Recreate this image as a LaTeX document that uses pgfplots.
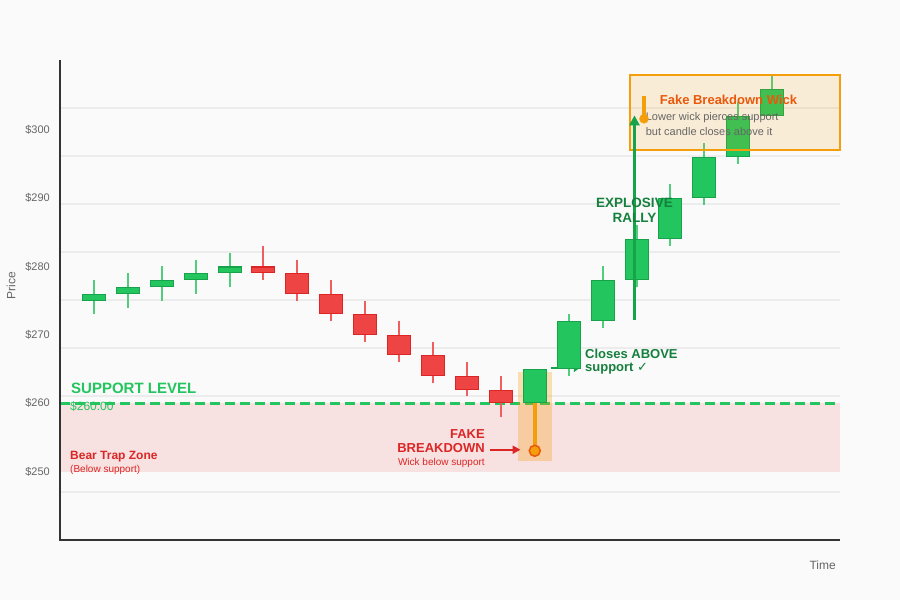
\documentclass[border=0pt]{standalone}
\usepackage{pgfplots}
\pgfplotsset{compat=1.18}
\usetikzlibrary{arrows.meta}
\usepackage{fontspec}
\setmainfont{Liberation Sans}
\newfontfamily\symfont{DejaVu Sans}

\definecolor{bg}{RGB}{250,250,250}
\definecolor{gridc}{RGB}{236,236,236}
\definecolor{axisc}{RGB}{51,51,51}
\definecolor{txtc}{RGB}{102,102,102}
\definecolor{up}{RGB}{34,197,94}
\definecolor{upD}{RGB}{22,163,74}
\definecolor{upL}{RGB}{80,205,125}
\definecolor{dn}{RGB}{239,68,68}
\definecolor{dnD}{RGB}{220,38,38}
\definecolor{dnL}{RGB}{240,95,95}
\definecolor{dkgreen}{RGB}{21,128,61}
\definecolor{zone}{RGB}{248,225,225}
\definecolor{amber}{RGB}{245,158,11}
\definecolor{orangeD}{RGB}{234,88,12}

\newcommand{\fs}[1]{\fontsize{#1}{#1}\selectfont}

\begin{document}
\begin{tikzpicture}
\useasboundingbox (-60pt,-60pt) rectangle (840pt,540pt);
\fill[bg] (-60pt,-60pt) rectangle (840pt,540pt);

\begin{axis}[
    at={(0,0)}, anchor=south west,
    scale only axis, width=780pt, height=480pt,
    xmin=-1, xmax=22, ymin=240, ymax=310.2,
    axis lines*=left,
    axis line style={draw=none},
    xtick=\empty,
    ytick={250,260,270,280,290,300},
    yticklabels={\$250,\$260,\$270,\$280,\$290,\$300},
    major tick length=0pt,
    yticklabel style={font=\fs{11}, text=txtc, inner sep=0pt, xshift=-10pt},
    extra y ticks={247.02,254.04,261.06,268.08,275.10,282.12,289.14,296.16,303.18},
    extra y tick labels={},
    extra y tick style={grid=major, major grid style={gridc, line width=1.5pt}},
    clip=false,
    unbounded coords=jump,
    wick/.style={line width=2pt},
]

% bear trap zone and support level
\fill[zone] (axis cs:-1,250) rectangle (axis cs:22,260);
\addplot[up, line width=3pt, dash pattern=on 10pt off 5pt] coordinates {(-1,260) (22,260)};

% highlight of the fake breakdown candle
\fill[amber, opacity=0.3] (axis cs:12.5,251.6) rectangle (axis cs:13.5,264.5);
\draw[upD, line width=2pt, -{Triangle[length=6pt,width=8pt]}]
  (axis cs:13.48,265.17) -- (axis cs:14.33,265.17);

% wicks (low, high)
\addplot[wick, upL] coordinates {
  (0,273)(0,278) (0,nan) (1,274)(1,279) (1,nan) (2,275)(2,280) (2,nan)
  (3,276)(3,281) (3,nan) (4,277)(4,282) (4,nan) (14,264)(14,273) (14,nan)
  (15,271)(15,280) (15,nan) (16,277)(16,286) (16,nan) (17,283)(17,292) (17,nan)
  (18,289)(18,298) (18,nan) (19,295)(19,304) (19,nan) (20,302)(20,308)};
\addplot[wick, dnL] coordinates {
  (5,278)(5,283) (5,nan) (6,275)(6,281) (6,nan) (7,272)(7,278) (7,nan)
  (8,269)(8,275) (8,nan) (9,266)(9,272) (9,nan) (10,263)(10,269) (10,nan)
  (11,261)(11,266) (11,nan) (12,258)(12,264)};

% bodies (open, close): outline, then fill
\addplot[line width=24pt, draw=upD] coordinates {
  (0,275)(0,276) (0,nan) (1,276)(1,277) (1,nan) (2,277)(2,278) (2,nan)
  (3,278)(3,279) (3,nan) (4,279)(4,280) (4,nan) (13,260)(13,265) (13,nan)
  (14,265)(14,272) (14,nan) (15,272)(15,278) (15,nan) (16,278)(16,284) (16,nan)
  (17,284)(17,290) (17,nan) (18,290)(18,296) (18,nan) (19,296)(19,302) (19,nan)
  (20,302)(20,306)};
\addplot[line width=22pt, draw=up] coordinates {
  (0,275.15)(0,275.85) (0,nan) (1,276.15)(1,276.85) (1,nan) (2,277.15)(2,277.85) (2,nan)
  (3,278.15)(3,278.85) (3,nan) (4,279.15)(4,279.85) (4,nan) (13,260.15)(13,264.85) (13,nan)
  (14,265.15)(14,271.85) (14,nan) (15,272.15)(15,277.85) (15,nan) (16,278.15)(16,283.85) (16,nan)
  (17,284.15)(17,289.85) (17,nan) (18,290.15)(18,295.85) (18,nan) (19,296.15)(19,301.85) (19,nan)
  (20,302.15)(20,305.85)};
\addplot[line width=24pt, draw=dnD] coordinates {
  (5,280)(5,279) (5,nan) (6,279)(6,276) (6,nan) (7,276)(7,273) (7,nan)
  (8,273)(8,270) (8,nan) (9,270)(9,267) (9,nan) (10,267)(10,264) (10,nan)
  (11,264)(11,262) (11,nan) (12,262)(12,260)};
\addplot[line width=22pt, draw=dn] coordinates {
  (5,279.85)(5,279.15) (5,nan) (6,278.85)(6,276.15) (6,nan) (7,275.85)(7,273.15) (7,nan)
  (8,272.85)(8,270.15) (8,nan) (9,269.85)(9,267.15) (9,nan) (10,266.85)(10,264.15) (10,nan)
  (11,263.85)(11,262.15) (11,nan) (12,261.85)(12,260.15)};

% the fake breakdown wick
\addplot[amber, line width=4pt] coordinates {(13,260) (13,253.1)};
\addplot[only marks, mark=*, mark size=5.5pt,
  mark options={fill=amber, draw=orangeD, line width=1.5pt}] coordinates {(13,253.05)};

% annotation box
\filldraw[fill=amber, fill opacity=0.15, draw=amber, line width=2pt]
  (axis cs:15.81,297.07) rectangle (axis cs:22,307.95);
\addplot[amber, line width=4pt] coordinates {(16.22,305.0) (16.22,301.7)};
\addplot[only marks, mark=*, mark size=4.5pt, mark options={fill=amber, draw=amber}]
  coordinates {(16.22,301.6)};

% rally arrow
\draw[upD, line width=3pt, -{Triangle[length=10pt,width=10pt]}]
  (axis cs:15.94,272.19) -- (axis cs:15.94,302.1);

% fake breakdown arrow
\draw[dnD, line width=2pt, -{Triangle[length=8pt,width=8pt]}]
  (axis cs:11.68,253.2) -- (axis cs:12.58,253.2);

% axis lines
\draw[axisc, line width=2pt] (rel axis cs:0,1) -- (rel axis cs:0,0) -- (rel axis cs:1,0);

% texts
\node[anchor=west, inner sep=0pt, text=up, font=\fs{15}\bfseries] at (axis cs:-0.675,262.24) {SUPPORT LEVEL};
\node[anchor=west, inner sep=0pt, text=up, font=\fs{12}] at (axis cs:-0.705,259.6) {\$260.00};
\node[anchor=west, inner sep=0pt, text=dnD, font=\fs{12}\bfseries] at (axis cs:-0.705,252.14) {Bear Trap Zone};
\node[anchor=west, inner sep=0pt, text=dnD, font=\fs{10}] at (axis cs:-0.705,250.24) {(Below support)};
\node[anchor=east, inner sep=0pt, text=dnD, font=\fs{13}\bfseries] at (axis cs:11.53,255.51) {FAKE};
\node[anchor=east, inner sep=0pt, text=dnD, font=\fs{13}\bfseries] at (axis cs:11.53,253.46) {BREAKDOWN};
\node[anchor=east, inner sep=0pt, text=dnD, font=\fs{10}] at (axis cs:11.53,251.26) {Wick below support};
\node[anchor=west, inner sep=0pt, text=dkgreen, font=\fs{13}\bfseries] at (axis cs:14.48,267.21) {Closes ABOVE};
\node[anchor=west, inner sep=0pt, text=dkgreen, font=\fs{13}\bfseries] at (axis cs:14.48,265.02) {support {\symfont ✓}};
\node[inner sep=0pt, text=dkgreen, font=\fs{13.5}\bfseries] at (axis cs:15.94,289.27) {EXPLOSIVE};
\node[inner sep=0pt, text=dkgreen, font=\fs{13.5}\bfseries] at (axis cs:15.94,287.07) {RALLY};
\node[inner sep=0pt, text=orangeD, font=\fs{13}\bfseries] at (axis cs:18.71,304.38) {Fake Breakdown Wick};
\node[anchor=west, inner sep=0pt, text=txtc, font=\fs{11}] at (axis cs:16.27,301.71) {Lower wick pierces support};
\node[anchor=west, inner sep=0pt, text=txtc, font=\fs{11}] at (axis cs:16.27,299.70) {but candle closes above it};
\end{axis}

\node[rotate=90, inner sep=0pt, text=txtc, font=\fs{12}] at (-49pt,254.3pt) {Price};
\node[anchor=east, inner sep=0pt, text=txtc, font=\fs{12}] at (776pt,-25.7pt) {Time};
\end{tikzpicture}
\end{document}
